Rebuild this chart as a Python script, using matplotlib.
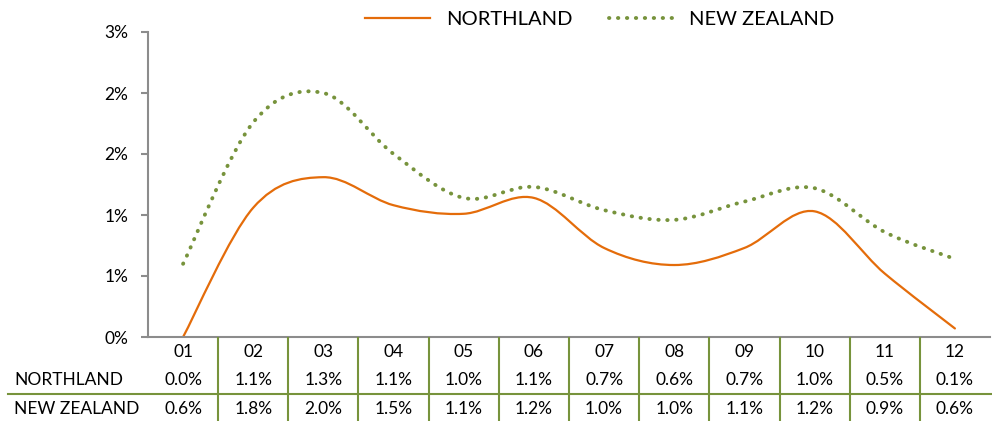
import matplotlib.pyplot as plt
from matplotlib.path import Path
from matplotlib.patches import PathPatch
from matplotlib.lines import Line2D
import matplotlib.transforms as mtransforms

plt.rcParams['font.family'] = ['Lato', 'DejaVu Sans']

months = ["01", "02", "03", "04", "05", "06", "07", "08", "09", "10", "11", "12"]
# values (table shows them rounded to 1 dp)
northland = [0.0, 1.06, 1.31, 1.08, 1.01, 1.14, 0.73, 0.59, 0.73, 1.03, 0.52, 0.07]
new_zealand = [0.60, 1.76, 2.00, 1.50, 1.14, 1.23, 1.04, 0.96, 1.11, 1.22, 0.86, 0.64]
yticks = [0, 0.5, 1.0, 1.5, 2.0, 2.5]
ytick_labels = ["0%", "1%", "1%", "2%", "2%", "3%"]

ORANGE = "#E46C0A"
GREEN = "#77933C"
GREY = "#8C8C8C"


def smooth_path(xs, ys):
    # catmull-rom style bezier through the points (like excel's smoothed line)
    pts = list(zip(xs, ys))
    n = len(pts)
    verts = [pts[0]]
    codes = [Path.MOVETO]
    for i in range(n - 1):
        p0 = pts[i - 1] if i > 0 else pts[i]
        p1 = pts[i]
        p2 = pts[i + 1]
        p3 = pts[i + 2] if i + 2 < n else pts[i + 1]
        c1 = (p1[0] + (p2[0] - p0[0]) / 6, p1[1] + (p2[1] - p0[1]) / 6)
        c2 = (p2[0] - (p3[0] - p1[0]) / 6, p2[1] - (p3[1] - p1[1]) / 6)
        verts += [c1, c2, p2]
        codes += [Path.CURVE4] * 3
    return Path(verts, codes)


fig = plt.figure(figsize=(9.92, 4.21), dpi=100)
ax = fig.add_axes([148 / 992, 84 / 421, 842 / 992, 305 / 421])

x = list(range(len(months)))
ax.set_xlim(-0.5, len(months) - 0.5)
ax.set_ylim(0, 2.5)

ax.add_patch(PathPatch(smooth_path(x, northland), fill=False, edgecolor=ORANGE,
                       lw=1.6, capstyle='round'))
ax.add_patch(PathPatch(smooth_path(x, new_zealand), fill=False, edgecolor=GREEN,
                       lw=2.8, linestyle=(0, (0.1, 2.2)), capstyle='round'))

for s in ["top", "right"]:
    ax.spines[s].set_visible(False)
ax.spines["left"].set_color(GREY)
ax.spines["bottom"].set_color(GREY)
ax.spines["left"].set_linewidth(1.5)
ax.spines["bottom"].set_linewidth(1.5)
ax.set_yticks(yticks)
ax.set_yticklabels(ytick_labels, fontsize=12.5)
ax.tick_params(axis='y', length=5, color=GREY, width=1.5, pad=9)
ax.set_xticks([])

# data table under the axis
trans = mtransforms.blended_transform_factory(ax.transData, fig.transFigure)
row_y = [1 - 352 / 421, 1 - 380 / 421, 1 - 409 / 421]
for i, m in enumerate(months):
    ax.text(i, row_y[0], m, transform=trans, ha='center', va='center', fontsize=12.5)
    ax.text(i, row_y[1], f"{northland[i]:.1f}%", transform=trans, ha='center',
            va='center', fontsize=12.5)
    ax.text(i, row_y[2], f"{new_zealand[i]:.1f}%", transform=trans, ha='center',
            va='center', fontsize=12.5)
fig.text(14 / 992, row_y[1], "NORTHLAND", ha='left', va='center', fontsize=12.5)
fig.text(14 / 992, row_y[2], "NEW ZEALAND", ha='left', va='center', fontsize=12.5)

for i in range(1, len(months)):
    fig.add_artist(Line2D([i - 0.5, i - 0.5], [1 - 338 / 421, 0], transform=trans,
                          color=GREEN, lw=1.5))
fig.add_artist(Line2D([8 / 992, 1], [1 - 394 / 421, 1 - 394 / 421],
                      color=GREEN, lw=1.5))

handles = [Line2D([], [], color=ORANGE, lw=1.6),
           Line2D([], [], color=GREEN, lw=2.8, linestyle=(0, (0.1, 2.2)),
                  dash_capstyle='round')]
fig.legend(handles, ["NORTHLAND", "NEW ZEALAND"], loc='center',
           bbox_to_anchor=(600 / 992, 1 - 19 / 421), ncol=2, frameon=False,
           fontsize=14.5, handlelength=3.2, columnspacing=1.8, handletextpad=0.8)

fig.savefig("out.png", dpi=100)
